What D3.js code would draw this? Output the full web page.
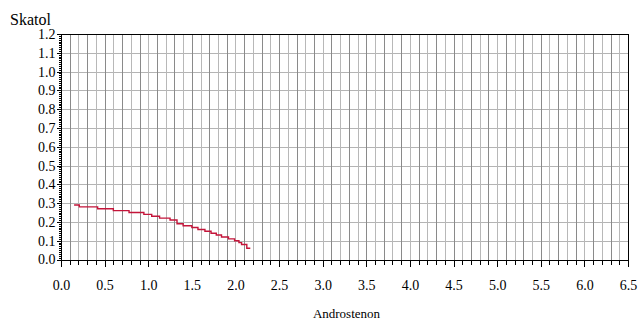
<!DOCTYPE html>
<html>
<head>
<meta charset="utf-8">
<script src="https://cdn.jsdelivr.net/npm/d3@7"></script>
<style>
  body { margin: 0; background: #fff; font-family: 'Liberation Serif', serif; }
</style>
</head>
<body>
<svg id="chart" style="font-family:'Liberation Serif'"></svg>
<script>
// data (step line)
const androstenon = [0.15, 0.21, 0.42, 0.60, 0.78, 0.95, 1.04, 1.13, 1.25, 1.33, 1.40, 1.50, 1.57, 1.65, 1.72, 1.78, 1.84, 1.92, 1.99, 2.04, 2.07, 2.13, 2.17];
const skatol      = [0.29, 0.28, 0.27, 0.26, 0.25, 0.24, 0.23, 0.22, 0.21, 0.19, 0.18, 0.17, 0.16, 0.15, 0.14, 0.13, 0.12, 0.11, 0.10, 0.09, 0.08, 0.06, 0.06];

const xLabel = "Androstenon";
const yLabel = "Skatol";

const width = 638;
const height = 322;
const margin = { top: 34, right: 10, bottom: 62.5, left: 61 };
const font = "Liberation Serif";

const svg = d3.select("#chart")
              .attr("width", width)
              .attr("height", height);

const xScale = d3.scaleLinear([0, 6.5], [margin.left, width - margin.right]);
const yScale = d3.scaleLinear([0, 1.2], [height - margin.bottom, margin.top]);

const x0 = xScale(0), x1 = xScale(6.5);
const y0 = yScale(0), y1 = yScale(1.2);
const snap = v => Math.round(v) + 0.5;

// grid
const grid = svg.append("g").attr("shape-rendering", "crispEdges");
grid.selectAll("line.hy")
    .data(d3.range(1, 12).map(d => d / 10))
    .join("line")
    .attr("x1", x0).attr("x2", x1)
    .attr("y1", d => snap(yScale(d))).attr("y2", d => snap(yScale(d)))
    .attr("stroke", "#b4b4b4");
grid.selectAll("line.vx")
    .data(d3.range(1, 65))
    .join("line")
    .attr("x1", d => snap(xScale(d / 10))).attr("x2", d => snap(xScale(d / 10)))
    .attr("y1", y1).attr("y2", y0)
    .attr("stroke", (d, i) => i % 2 ? "#b8b8b8" : "#8a8a8a");

// frame
svg.append("rect")
   .attr("x", snap(x0)).attr("y", snap(y1))
   .attr("width", Math.round(x1) - Math.round(x0))
   .attr("height", Math.round(y0) - Math.round(y1))
   .attr("fill", "none").attr("stroke", "#000")
   .attr("shape-rendering", "crispEdges");

// x axis
const xAxis = d3.axisBottom(xScale)
                .tickValues(d3.range(0, 66).map(d => d / 10))
                .tickSize(4)
                .tickFormat(d => Math.round(d * 10) % 5 === 0 ? d3.format(".1f")(d) : "");
svg.append("g")
   .attr("transform", `translate(0, ${snap(y0)})`)
   .call(xAxis)
   .attr("font-family", null)
   .call(g => g.select(".domain").remove())
   .call(g => g.selectAll(".tick line")
               .attr("shape-rendering", "crispEdges")
               .attr("y2", d => Math.round(d * 10) % 5 === 0 ? 6 : 4))
   .call(g => g.selectAll(".tick text")
               .attr("y", 20)
               .style("font-family", font)
               .style("font-size", "14px")
               .attr("fill", "#000"));

// y axis, minor ticks every 0.01
const yAxis = d3.axisLeft(yScale)
                .tickValues(d3.range(0, 121).map(d => d / 100))
                .tickSize(3)
                .tickFormat(d => Math.round(d * 100) % 10 === 0 ? d3.format(".1f")(d) : "");
svg.append("g")
   .attr("transform", `translate(${snap(x0)}, 0)`)
   .call(yAxis)
   .attr("font-family", null)
   .call(g => g.select(".domain").remove())
   .call(g => g.selectAll(".tick line")
               .attr("shape-rendering", "crispEdges")
               .attr("x2", d => Math.round(d * 100) % 10 === 0 ? -5 : -3))
   .call(g => g.selectAll(".tick text")
               .attr("x", -6)
               .style("font-family", font)
               .style("font-size", "14px")
               .attr("fill", "#000"));

// axis titles
svg.append("text")
   .attr("x", 10).attr("y", 25)
   .style("font-family", font)
   .style("font-size", "16px")
   .text(yLabel);
svg.append("text")
   .attr("x", (x0 + x1) / 2 + 2).attr("y", 318)
   .attr("text-anchor", "middle")
   .style("font-family", font)
   .style("font-size", "13px")
   .text(xLabel);

// step line
const line = d3.line()
               .x(i => xScale(androstenon[i]))
               .y(i => yScale(skatol[i]))
               .curve(d3.curveStepAfter);
svg.append("path")
   .datum(d3.range(androstenon.length))
   .attr("d", line)
   .attr("fill", "none")
   .attr("stroke", "#c4153a")
   .attr("stroke-width", 1.4);
</script>
</body>
</html>
